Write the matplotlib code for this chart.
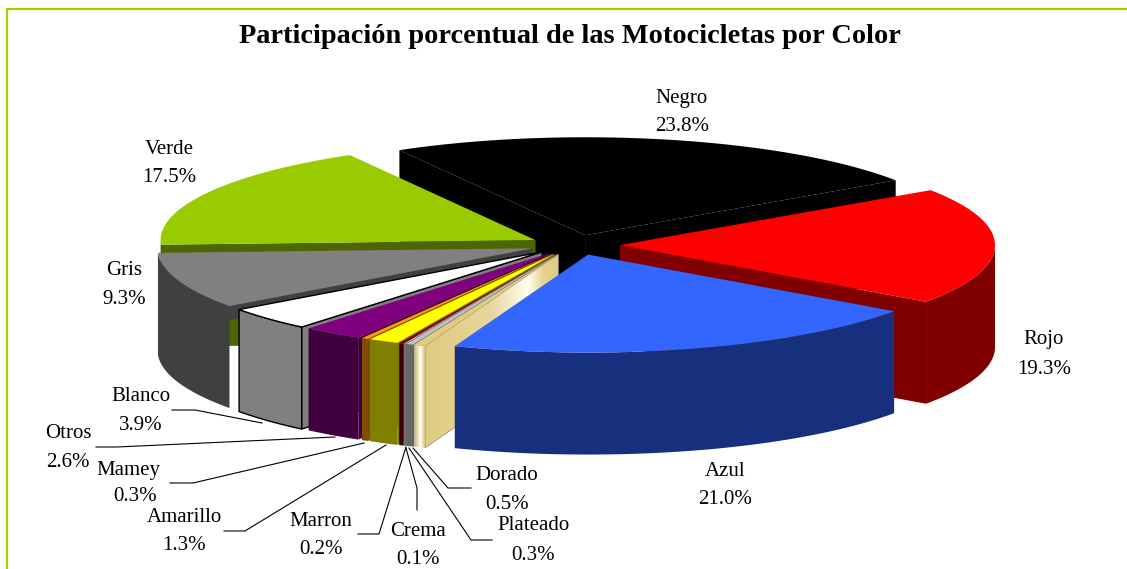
import numpy as np
import matplotlib
matplotlib.use("Agg")
import matplotlib.pyplot as plt
from matplotlib.colors import LinearSegmentedColormap
from matplotlib.patches import Polygon

TITLE = "Participación porcentual de las Motocicletas por Color"

# clockwise, starting from Negro
names = ["Negro", "Rojo", "Azul", "Dorado", "Plateado", "Crema", "Marron",
         "Amarillo", "Mamey", "Otros", "Blanco", "Gris", "Verde"]
values = [23.8, 19.3, 21.0, 0.5, 0.3, 0.1, 0.2, 1.3, 0.3, 2.6, 3.9, 9.3, 17.5]
top_colors = ["#000000", "#ff0000", "#3366ff", "#e2cb7e", "#c0c0c0", "#b0b0b0", "#800000",
              "#ffff00", "#ff9900", "#800080", "#ffffff", "#808080", "#99cc00"]
side_colors = ["#000000", "#800000", "#17307d", "#e2cb7e", "#666666", "#707070", "#400000",
               "#808000", "#804c00", "#400040", "#808080", "#404040", "#4d6600"]
draw_order = ["Negro", "Verde", "Rojo", "Gris", "Blanco", "Otros", "Mamey", "Amarillo",
              "Marron", "Crema", "Plateado", "Dorado", "Azul"]

# label centres: name line and percent line
label_pos = {
    "Negro": (682, 98, 682, 126), "Rojo": (1044, 339, 1044, 369),
    "Azul": (725, 471, 725, 499), "Verde": (169, 149, 169, 177),
    "Gris": (124, 270, 124, 299), "Blanco": (141, 396, 141, 425),
    "Otros": (68, 433, 68, 462), "Mamey": (128, 470, 135, 496),
    "Amarillo": (184, 517, 184, 546), "Marron": (321, 521, 321, 549),
    "Crema": (418, 532, 418, 560), "Dorado": (507, 475, 507, 504),
    "Plateado": (533, 526, 533, 555),
}
leaders = {
    "Blanco": [(172, 410), (195, 410), (262, 423)],
    "Otros": [(96, 447), (117, 447), (335, 437)],
    "Mamey": [(170, 483), (193, 483), (364, 443)],
    "Amarillo": [(224, 531), (245, 531), (386, 445)],
    "Marron": [(358, 534), (379, 534), (406, 447)],
    "Crema": [(406, 448), (417, 488), (417, 510)],
    "Plateado": [(409, 448), (471, 540), (492, 540)],
    "Dorado": [(413, 448), (448, 488), (471, 488)],
}

CX, CY = 575, 245
RX, RY = 375, 98
EXPLODE_X, EXPLODE_Y = 45, 10
DEPTH = 102
GRIS_FACE_DEPTH = 14
START = 119.7

plt.rcParams["font.family"] = "Liberation Serif"

fig = plt.figure(figsize=(11.27, 5.69), dpi=100)
ax = fig.add_axes([0, 0, 1, 1])


def arc(apex, a0, a1, n=60):
    t = np.radians(np.linspace(a0, a1, n))
    return np.column_stack([apex[0] + RX * np.cos(t), apex[1] - RY * np.sin(t)])


def gradient(poly, x0, x1, stops, z):
    cmap = LinearSegmentedColormap.from_list("g", stops)
    im = ax.imshow(np.linspace(0, 1, 256).reshape(1, -1), cmap=cmap, aspect="auto",
                   extent=(x0, x1, 569, 0), zorder=z)
    patch = Polygon(poly, closed=True, transform=ax.transData, facecolor="none", edgecolor="none")
    ax.add_patch(patch)
    im.set_clip_path(patch)


# slice angles from the values
shares = np.array(values) / sum(values) * 360
starts = START - np.concatenate([[0], np.cumsum(shares)[:-1]])
ends = starts - shares

z = 1
for name in draw_order:
    i = names.index(name)
    a0, a1 = starts[i], ends[i]
    mid = np.radians((a0 + a1) / 2)
    apex = (CX + EXPLODE_X * np.cos(mid), CY - EXPLODE_Y * np.sin(mid))
    outer = arc(apex, a0, a1)
    edge = "black" if name == "Blanco" else "none"
    lw = 1.0 if name == "Blanco" else 0

    # cut faces that look towards the viewer
    for ang, pt in ((a0, outer[0]), (a1, outer[-1])):
        visible = np.cos(np.radians(a0)) < 0 if ang == a0 else np.cos(np.radians(a1)) > 0
        if not visible:
            continue
        # the grey slice only shows a thin strip, the green face shows past its corner
        depth = GRIS_FACE_DEPTH if name == "Gris" else DEPTH
        face = [apex, tuple(pt), (pt[0], pt[1] + depth), (apex[0], apex[1] + depth)]
        if name == "Dorado":
            gradient(face, pt[0], apex[0],
                     [(0, "#e0ca80"), (0.5, "#e8d79c"), (0.77, "#fffff0"),
                      (0.88, "#e8d490"), (1, "#e2cb7e")], z)
            ax.add_patch(Polygon(face, closed=True, fill=False, edgecolor="#8a8a70", lw=0.5, zorder=z + 0.5))
        else:
            ax.add_patch(Polygon(face, closed=True, facecolor=side_colors[i], edgecolor=edge, lw=lw, zorder=z))
        z += 1

    # outer wall, only the front part of the rim
    t = np.linspace(a0, a1, 80)
    front = t[np.sin(np.radians(t)) < 0]
    if len(front) > 1:
        rim = arc(apex, front[0], front[-1])
        wall = np.vstack([rim, (rim + [0, DEPTH])[::-1]])
        if name == "Dorado":
            gradient(wall, rim[:, 0].min(), rim[:, 0].max(),
                     [(0, "#b8b090"), (0.3, "#e8d8a0"), (0.6, "#ffffff"), (1, "#d8c078")], z)
        else:
            ax.add_patch(Polygon(wall, closed=True, facecolor=side_colors[i], edgecolor=edge, lw=lw, zorder=z))
        z += 1

    top = np.vstack([[apex], outer])
    ax.add_patch(Polygon(top, closed=True, facecolor=top_colors[i], edgecolor=edge, lw=lw, zorder=z))
    z += 1

# faint edge at the point of the black slice
i = names.index("Negro")
mid = np.radians((starts[i] + ends[i]) / 2)
nx, ny = CX + EXPLODE_X * np.cos(mid), CY - EXPLODE_Y * np.sin(mid)
ax.plot([nx, nx], [ny, ny + 24], color="#404040", lw=0.6, zorder=1.5)

for name, pts in leaders.items():
    xs, ys = zip(*pts)
    ax.plot(xs, ys, color="black", lw=0.8, zorder=z + 1, solid_joinstyle="miter")

for name, value in zip(names, values):
    x0, y0, x1, y1 = label_pos[name]
    ax.text(x0, y0, name, ha="center", va="center", fontsize=15, zorder=z + 2)
    ax.text(x1, y1, f"{value:.1f}%", ha="center", va="center", fontsize=15, zorder=z + 2)

ax.text(570, 36, TITLE, ha="center", va="center", fontsize=20.4, fontweight="bold", zorder=z + 2)

# green frame, open on the right and bottom
ax.plot([7, 7, 1127], [569, 9, 9], color="#a4d000", lw=1.6, zorder=z + 3, solid_joinstyle="miter")

ax.set_xlim(0, 1127)
ax.set_ylim(569, 0)
ax.axis("off")
fig.savefig("out.png", dpi=100, facecolor="white")
